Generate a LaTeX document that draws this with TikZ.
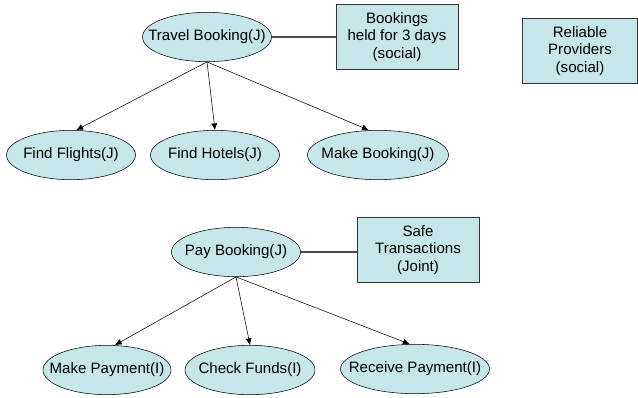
\documentclass[tikz,border=0pt]{standalone}
\usepackage{fontspec}
\setmainfont{Liberation Sans}
\usetikzlibrary{shapes.geometric}
\usetikzlibrary{arrows.meta}
\definecolor{goalfill}{RGB}{198,230,233}

\begin{document}
\begin{tikzpicture}[x=0.75pt, y=-0.75pt]
            \tikzstyle{goal} = [ellipse, draw=black, fill=goalfill, inner xsep=-30pt, inner ysep=0pt, minimum height=37pt, font=\fontsize{11.3}{13.2}\selectfont]
            \tikzstyle{softgoal} = [rectangle, draw=black!80, fill=goalfill, inner sep=0pt, minimum width=91.5pt, minimum height=48.5pt, align=center, font=\fontsize{11.3}{13.2}\selectfont]
            \tikzstyle{refine} = [-{Latex[length=5pt, width=4.5pt]}, black]
            \tikzstyle{contrib} = [draw=black!70, line width=0.8pt]
            \useasboundingbox (0, 0) rectangle (638, 397);
            % travel booking
            \node[goal, minimum width=96.75pt] (tb) at (207, 37) {Travel Booking(J)};
            \node[softgoal] (held) at (397, 37) {Bookings\\held for 3 days\\(social)};
            \node[softgoal, minimum width=86.25pt] (rel) at (580, 51) {Reliable\\Providers\\(social)};
            \node[goal, minimum width=96.75pt] (ff) at (71, 155) {Find Flights(J)};
            \node[goal, minimum width=96.75pt] (fh) at (215, 155) {Find Hotels(J)};
            \node[goal, minimum width=105.75pt] (mb) at (378, 155) {Make Booking(J)};
            \draw[contrib] (tb) -- (held);
            \draw[refine] (tb.south) -- ([xshift=4pt]ff.north);
            \draw[refine] (tb.south) -- (fh.north);
            \draw[refine] (tb.south) -- ([xshift=-7pt]mb.north);
            % pay booking
            \node[goal, minimum width=96.75pt] (pb) at (236, 252) {Pay Booking(J)};
            \node[softgoal] (safe) at (418, 250) {Safe\\Transactions\\(Joint)};
            \node[goal, minimum width=96pt] (mp) at (107, 370) {Make Payment(I)};
            \node[goal, minimum width=97.5pt] (cf) at (250, 370) {Check Funds(I)};
            \node[goal, minimum width=111.75pt] (rp) at (415, 369) {Receive Payment(I)};
            \draw[contrib] (pb.east) -- (pb.east -| safe.west);
            \draw[refine] (pb.south) -- ([xshift=6pt]mp.north);
            \draw[refine] (pb.south) -- (cf.north);
            \draw[refine] (pb.south) -- ([xshift=-4pt]rp.north);
        \end{tikzpicture}
\end{document}
